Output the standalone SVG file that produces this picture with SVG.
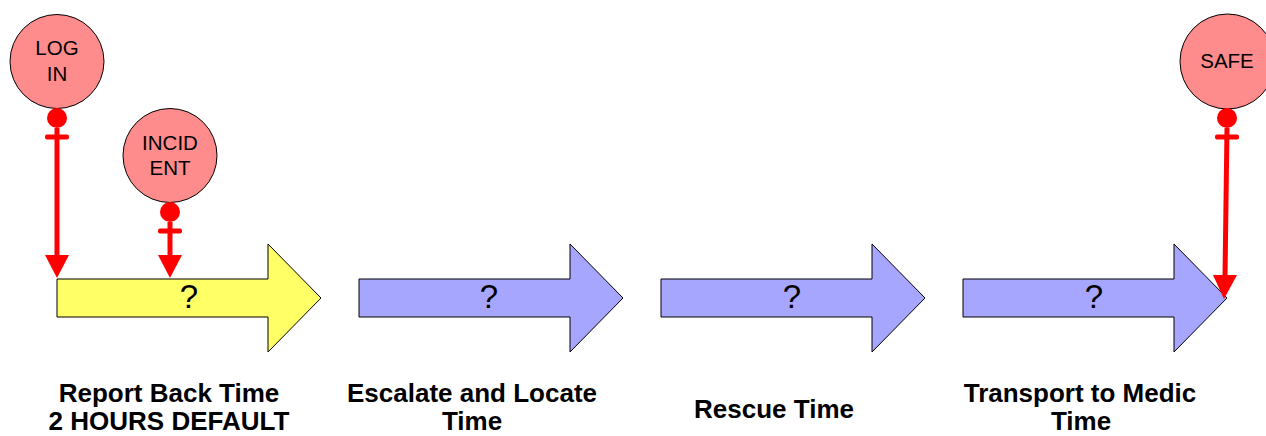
<svg xmlns="http://www.w3.org/2000/svg" width="1266" height="436" viewBox="0 0 1266 436">
<style>
.circ{fill:#ff8c8c;stroke:#000;stroke-width:1}
.ctext{font-family:"Liberation Sans",Arial,sans-serif;font-size:20.5px;fill:#000;text-anchor:middle}
.yarrow{fill:#ffff66;stroke:#000;stroke-width:1}
.barrow{fill:#a6a6ff;stroke:#000;stroke-width:1}
.q{font-family:"Liberation Sans",Arial,sans-serif;font-size:33px;fill:#000;text-anchor:middle}
.lbl{font-family:"Liberation Sans",Arial,sans-serif;font-size:26px;font-weight:bold;fill:#000;text-anchor:middle}
.conn{stroke:#ff0000;stroke-width:5;fill:none}
.red{fill:#ff0000}
</style>
<rect width="1266" height="436" fill="#ffffff"/>
<g id="arrow-report">
<polygon class="yarrow" points="57,279 268,279 268,244 321,298 268,352 268,317 57,317"/>
<text class="q" x="189" y="308">?</text>
</g>
<g id="arrow-escalate">
<polygon class="barrow" points="359,279 570,279 570,244 623,298 570,352 570,317 359,317"/>
<text class="q" x="489" y="308">?</text>
</g>
<g id="arrow-rescue">
<polygon class="barrow" points="661,279 872,279 872,244 925,298 872,352 872,317 661,317"/>
<text class="q" x="792" y="308">?</text>
</g>
<g id="arrow-transport">
<polygon class="barrow" points="963,279 1174,279 1174,244 1227,298 1174,352 1174,317 963,317"/>
<text class="q" x="1094" y="308">?</text>
</g>
<g id="node-login">
<circle class="circ" cx="57" cy="61.5" r="47"/>
<text class="ctext" x="57" y="55">LOG</text>
<text class="ctext" x="57" y="81">IN</text>
</g>
<g id="node-incident">
<circle class="circ" cx="170" cy="155.5" r="47"/>
<text class="ctext" x="170" y="150">INCID</text>
<text class="ctext" x="170" y="175">ENT</text>
</g>
<g id="node-safe">
<circle class="circ" cx="1227.5" cy="61.5" r="47.5"/>
<text class="ctext" x="1227" y="68">SAFE</text>
</g>
<g id="connectors">
<g id="conn-login">
<circle class="red" cx="57" cy="118" r="10"/>
<rect class="red" x="45" y="134.5" width="24" height="5" rx="2"/>
<line class="conn" x1="57" y1="128" x2="57" y2="256"/>
<polygon class="red" points="45,255 69,255 57,278"/>
</g>
<g id="conn-incident">
<circle class="red" cx="170" cy="212" r="10"/>
<rect class="red" x="158" y="228.5" width="24" height="5" rx="2"/>
<line class="conn" x1="170" y1="222" x2="170" y2="256"/>
<polygon class="red" points="158,255 182,255 170,278"/>
</g>
<g id="conn-safe">
<circle class="red" cx="1227" cy="118" r="10"/>
<rect class="red" x="1215" y="134.5" width="24" height="5" rx="2"/>
<line class="conn" x1="1227" y1="128" x2="1225" y2="277"/>
<polygon class="red" points="1213,275 1237,275 1224,299"/>
</g>
</g>
<g id="labels">
<text class="lbl" x="169" y="402">Report Back Time</text>
<text class="lbl" x="169" y="430">2 HOURS DEFAULT</text>
<text class="lbl" x="472" y="402">Escalate and Locate</text>
<text class="lbl" x="472" y="430">Time</text>
<text class="lbl" x="774" y="418">Rescue Time</text>
<text class="lbl" x="1080" y="402">Transport to Medic</text>
<text class="lbl" x="1081" y="430">Time</text>
</g>
</svg>
